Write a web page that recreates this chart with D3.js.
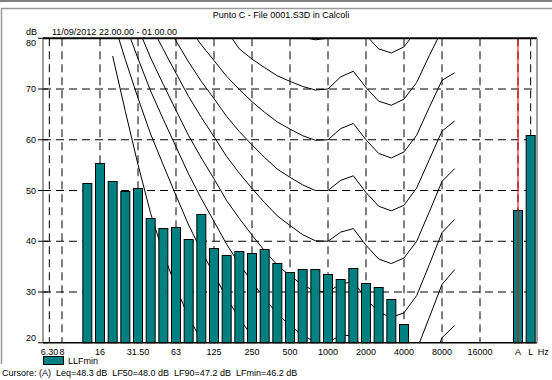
<!DOCTYPE html>
<meta charset="utf-8">
<style>
    body { margin: 0; background: #fff; }
    svg text { font-family: "Liberation Sans", Arial, sans-serif; font-size: 9px; fill: #000; }
</style>
<div id="chart"></div>
<script src="https://d3js.org/d3.v7.min.js"></script>
<script>

    // x slots: third-octave bands from 6.3 Hz to 20 kHz, an empty slot, then A and L totals
    const slots = ["6.3","8","10","12.5","16","20","25","31.5","40","50","63","80","100","125","160","200",
                   "250","315","400","500","630","800","1000","1250","1600","2000","2500","3150","4000","5000",
                   "6300","8000","10000","12500","16000","20000","-","A","L"];

    // LLFmin spectrum
    const bandLabels = ["12.5","16","20","25","31.5","40","50","63","80","100","125","160","200","250","315",
                        "400","500","630","800","1000","1250","1600","2000","2500","3150","4000"];
    const llfmin = [51.4, 55.5, 51.9, 49.9, 50.4, 44.6, 42.7, 42.9, 40.4, 45.3, 38.7, 37.2, 38.1, 37.6, 38.4,
                    35.7, 33.9, 34.5, 34.5, 33.5, 32.5, 34.7, 31.7, 31.0, 28.6, 23.7];
    const totalLabels = ["A", "L"];
    const totals = [46.2, 60.9];

    // equal-loudness contours (phon)
    const contourFreqs = ["20","25","31.5","40","50","63","80","100","125","160","200","250","315","400","500",
                          "630","800","1000","1250","1600","2000","2500","3150","4000","5000","6300","8000","10000"];
    const phon0  = [76.5, 65.6, 55.1, 45.5, 37.6, 30.9, 25.0, 20.5, 16.6, 13.1, 10.0, 7.5, 5.0, 3.0, 1.5,
                    0.5, 0, 0, 1.5, 0, -3, -6, -7, -6.5, -3, 3.5, 10, 12];
    const phon10 = [83.8, 75.8, 68.2, 61.1, 55.0, 49.0, 43.2, 38.1, 33.5, 28.8, 24.8, 21.3, 18.1, 15.1, 13.0,
                    11.2, 10.0, 10.0, 11.3, 10.4, 7.3, 4.5, 3.0, 3.8, 7.5, 14.4, 21.0, 23.4];
    const phon20 = [89.6, 82.7, 76.0, 69.6, 64.0, 58.6, 53.2, 48.4, 43.9, 39.4, 35.5, 32.0, 28.7, 25.7, 23.4,
                    21.5, 20.1, 20.0, 21.5, 21.4, 18.2, 15.4, 14.3, 15.1, 18.6, 25.0, 31.5, 34.4];
    const phon30 = [94.7, 88.3, 82.1, 76.1, 70.9, 65.8, 60.8, 56.4, 52.3, 48.0, 44.5, 41.2, 38.1, 35.3, 33.2,
                    31.4, 30.1, 30.0, 31.6, 32.0, 28.7, 26.0, 25.0, 25.9, 29.3, 35.4, 41.7, 44.3];
    const phon40 = [99.9, 93.9, 88.2, 82.6, 77.8, 73.1, 68.5, 64.4, 60.6, 56.7, 53.4, 50.4, 47.6, 45.0, 43.1,
                    41.3, 40.1, 40.0, 41.8, 42.5, 39.2, 36.5, 35.6, 36.7, 40.0, 45.8, 51.8, 54.3];
    const phon50 = [104.7, 99.1, 93.6, 88.4, 83.9, 79.5, 75.3, 71.5, 68.1, 64.6, 61.6, 59.0, 56.5, 54.2, 52.6,
                    51.1, 50.0, 50.0, 52.0, 52.9, 49.6, 46.9, 46.0, 47.1, 50.5, 56.1, 61.7, 63.7];
    const phon60 = [109.5, 104.2, 99.1, 94.2, 90.0, 85.9, 82.1, 78.7, 75.6, 72.5, 69.9, 67.5, 65.4, 63.5, 62.1,
                    60.8, 59.9, 60.0, 62.2, 63.2, 60.0, 57.3, 56.4, 57.6, 60.9, 66.4, 71.7, 73.2];
    const phon70 = [114.3, 109.2, 104.4, 99.8, 95.9, 92.2, 88.7, 85.6, 83.5, 81.5, 77.9, 75.9, 74.2, 72.6, 71.5,
                    70.5, 69.8, 70.0, 72.4, 73.5, 70.3, 67.6, 66.8, 68.0, 71.3, 76.6, 81.6, 82.5];
    const phon80 = [119.0, 114.2, 109.7, 105.3, 101.7, 98.4, 95.2, 92.5, 90.1, 87.8, 85.9, 84.3, 82.9, 81.7, 80.9,
                    80.2, 79.7, 80.0, 82.5, 83.7, 80.6, 77.9, 77.1, 78.3, 81.6, 86.8, 91.4, 91.7];

    // axis ticks
    const yTicks = [20, 30, 40, 50, 60, 70, 80];
    const xTicks = ["6.3","8","16","31.5","63","125","250","500","1000","2000","4000","8000","16000","A","L"];
    const xTickText = ["6.30","8","16","31.50","63","125","250","500","1000","2000","4000","8000","16000","A","L"];

    const width = 552, height = 380;
    const plotL = 43, plotR = 537, plotT = 38.25, plotB = 342.75;

    const svg = d3.select("#chart").append("svg")
                  .attr("width", width)
                  .attr("height", height);

    const x = d3.scalePoint().domain(slots).range([plotL, plotR]).padding(0.5);
    const y = d3.scaleLinear().domain([20, 80]).range([plotB, plotT]);
    const barW = 10;

    // panel frame
    svg.append("line").attr("x1", 0).attr("x2", width).attr("y1", 1).attr("y2", 1)
       .attr("stroke", "#808080").attr("stroke-width", 2);
    svg.append("path").attr("d", `M1.5,364V8.5H${width}`)
       .attr("fill", "none").attr("stroke", "#999").attr("stroke-width", 1.5);

    svg.append("text").attr("x", 281).attr("y", 18).attr("text-anchor", "middle")
       .text("Punto C - File 0001.S3D in Calcoli");
    svg.append("text").attr("x", 26).attr("y", 35).text("dB");
    svg.append("text").attr("x", 52).attr("y", 35).text("11/09/2012 22.00.00 - 01.00.00");

    svg.append("defs").append("clipPath").attr("id", "plot")
       .append("rect").attr("x", plotL).attr("y", plotT).attr("width", plotR - plotL).attr("height", plotB - plotT);

    // dashed grid
    const grid = svg.append("g").attr("stroke", "#000").attr("stroke-width", 1).attr("stroke-dasharray", "8,5");
    grid.selectAll(".h").data(yTicks.slice(1, -1)).join("line")
        .attr("x1", plotL).attr("x2", plotR)
        .attr("y1", d => y(d)).attr("y2", d => y(d));
    grid.selectAll(".v").data(xTicks).join("line")
        .attr("x1", d => x(d)).attr("x2", d => x(d))
        .attr("y1", plotT).attr("y2", plotB);

    // contours
    const contours = [phon0, phon10, phon20, phon30, phon40, phon50, phon60, phon70, phon80];
    const line = d3.line()
                   .x((d, i) => x(contourFreqs[i]))
                   .y(d => y(d));
    svg.append("g").attr("clip-path", "url(#plot)")
       .selectAll("path").data(contours).join("path")
       .attr("d", line)
       .attr("fill", "none")
       .attr("stroke", "#000")
       .attr("stroke-width", 1);

    // bars
    const bars = bandLabels.map((b, i) => ({ key: b, value: llfmin[i] }))
                 .concat(totalLabels.map((b, i) => ({ key: b, value: totals[i] })));
    svg.append("g").selectAll("rect").data(bars).join("rect")
       .attr("x", d => x(d.key) - barW / 2 + 0.5)
       .attr("y", d => Math.round(y(d.value)) + 0.5)
       .attr("width", barW - 1)
       .attr("height", d => plotB - Math.round(y(d.value)) - 0.5)
       .attr("fill", "#008080")
       .attr("stroke", "#000")
       .attr("stroke-width", 1);

    // cursor
    svg.append("line").attr("x1", x("A")).attr("x2", x("A")).attr("y1", plotT).attr("y2", plotB)
       .attr("stroke", "#ff0000").attr("stroke-width", 1);

    // plot borders
    svg.append("line").attr("x1", plotL).attr("x2", plotR).attr("y1", plotT).attr("y2", plotT)
       .attr("stroke", "#000").attr("stroke-width", 2);
    svg.append("line").attr("x1", plotL).attr("x2", plotR).attr("y1", plotB).attr("y2", plotB)
       .attr("stroke", "#000").attr("stroke-width", 1.5);
    svg.append("line").attr("x1", plotR).attr("x2", plotR).attr("y1", plotT).attr("y2", plotB)
       .attr("stroke", "#808080").attr("stroke-width", 1.5);
    svg.append("line").attr("x1", plotL).attr("x2", plotL).attr("y1", plotT).attr("y2", plotB)
       .attr("stroke", "#808080").attr("stroke-width", 1.5);

    // y axis: end labels are kept inside the axis span
    const yAxis = svg.append("g");
    yAxis.selectAll("line").data(yTicks).join("line")
         .attr("x1", plotL - 5).attr("x2", plotL + 5)
         .attr("y1", d => y(d)).attr("y2", d => y(d))
         .attr("stroke", "#000");
    yAxis.selectAll("text").data(yTicks).join("text")
         .attr("x", 36)
         .attr("y", d => d === 80 ? y(d) + 8 : d === 20 ? y(d) - 2 : y(d) + 3)
         .attr("text-anchor", "end")
         .text(d => d);

    // x axis labels
    svg.append("g").selectAll("text").data(xTicks).join("text")
       .attr("x", d => x(d)).attr("y", 355)
       .attr("text-anchor", (d, i) => i === 0 ? "start" : "middle")
       .attr("dx", (d, i) => i === 0 ? -8.5 : 0)
       .text((d, i) => xTickText[i]);
    svg.append("text").attr("x", x("L") + 12.7).attr("y", 355).attr("text-anchor", "middle").text("Hz");

    // legend
    svg.append("rect").attr("x", 43.5).attr("y", 356.5).attr("width", 20).attr("height", 8)
       .attr("fill", "#008080").attr("stroke", "#000");
    svg.append("text").attr("x", 68).attr("y", 364).text("LLFmin");

    svg.append("text").attr("x", 2).attr("y", 376)
       .attr("xml:space", "preserve")
       .text("Cursore: (A)  Leq=48.3 dB  LF50=48.0 dB  LF90=47.2 dB  LFmin=46.2 dB");

</script>
